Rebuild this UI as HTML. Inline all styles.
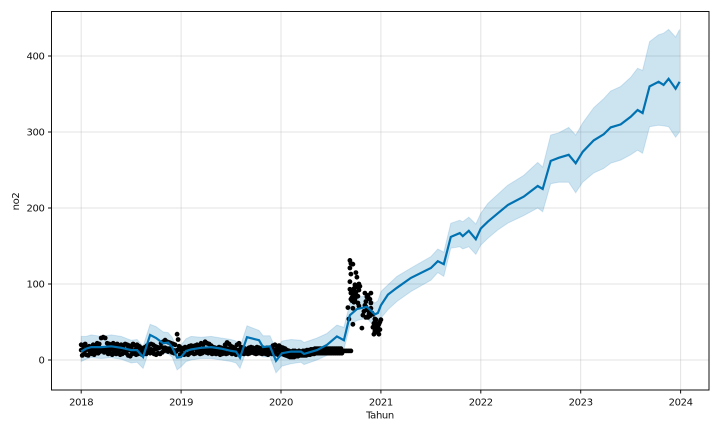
<!DOCTYPE html>
<html>
<head>
<meta charset="utf-8">
<style>
html,body{margin:0;padding:0;background:#fff;width:720px;height:432px;overflow:hidden}
svg{display:block;font-family:"DejaVu Sans","Liberation Sans",sans-serif}
text{letter-spacing:-0.35px}
</style>
</head>
<body>
<svg id="chart" width="720" height="432" viewBox="0 0 720 432" xmlns="http://www.w3.org/2000/svg">
<g id="grid"></g>
<path id="band" fill="#0072B2" fill-opacity="0.2" stroke="#0072B2" stroke-opacity="0.15" stroke-width="1"></path>
<g id="points"></g>
<path id="line" fill="none" stroke="#0072B2" stroke-width="2.2"></path>
<rect x="51.5" y="11.5" width="657.5" height="378.5" fill="none" stroke="#111" stroke-width="1"></rect>
<g id="ticks"></g>
<text x="380" y="418.5" font-size="10" fill="#111" text-anchor="middle">Tahun</text>
<text transform="translate(19,201.5) rotate(-90)" font-size="10" fill="#111" text-anchor="middle">no2</text>
</svg>
<script>
const xTicks = [2018, 2019, 2020, 2021, 2022, 2023, 2024];
const yTicks = [0, 100, 200, 300, 400];
const forecastDates = [2018.00,2018.05,2018.10,2018.20,2018.30,2018.40,2018.50,2018.56,2018.62,2018.69,2018.75,2018.82,2018.87,2018.91,2018.96,2019.00,2019.05,2019.10,2019.20,2019.30,2019.40,2019.50,2019.55,2019.59,2019.66,2019.72,2019.78,2019.82,2019.89,2019.95,2020.01,2020.10,2020.20,2020.23,2020.36,2020.46,2020.56,2020.63,2020.69,2020.76,2020.86,2020.94,2020.97,2021.00,2021.07,2021.16,2021.30,2021.50,2021.57,2021.63,2021.70,2021.79,2021.82,2021.88,2021.95,2022.00,2022.07,2022.17,2022.27,2022.43,2022.57,2022.62,2022.70,2022.78,2022.88,2022.95,2023.02,2023.13,2023.23,2023.30,2023.40,2023.50,2023.57,2023.62,2023.69,2023.78,2023.83,2023.88,2023.95,2023.99];
const forecastValues = [11,15,17,17,18,16,13,13,4,33,29,22,23,17,3,4,12,14,16,17,15,12,11,3,30,28,26,17,18,-1,9,11,11,8,13,20,31,26,59,67,70,60,62,72,86,95,108,121,130,126,162,167,163,170,159,173,182,193,204,215,229,225,262,266,270,259,274,289,297,306,310,320,329,325,360,366,362,370,357,366];
const forecastLower = [-2,1,3,2,3,1,-4,-3,-11,16,13,9,8,4,-13,-9,-2,0,2,2,0,-2,-4,-11,14,13,11,4,4,-17,-8,-5,-3,-6,0,6,16,14,45,52,55,43,45,55,66,77,90,105,115,110,147,149,146,149,139,151,160,171,180,190,200,195,232,234,234,220,234,246,252,259,263,270,276,272,307,309,308,307,293,300];
const forecastUpper = [31,31,33,31,33,31,26,27,18,47,44,37,36,30,15,20,28,31,30,31,29,27,25,17,45,42,39,32,32,14,25,27,26,23,29,35,46,43,75,82,85,75,78,90,99,110,121,136,146,142,180,184,182,188,179,193,206,218,230,243,260,254,296,299,306,296,312,332,344,354,360,372,384,381,419,428,430,435,425,435];
const observedStartYear = 2018;
const observedYearStep = 0.01;
const observedValues = [20,6,19,8,21,7,17,6,18,9,16,8,20,7,19,10,22,9,21,11,29,12,30,10,29,13,22,8,21,9,20,7,22,10,20,8,21,9,19,7,20,8,18,10,21,9,20,6,19,5,17,8,21,9,19,7,20,8,18,9,16,7,15,9,17,8,19,10,20,9,21,10,20,8,18,7,17,9,16,8,22,10,24,12,26,13,24,11,23,12,22,10,21,9,20,11,34,27,18,7,16,8,15,7,17,8,16,7,18,9,19,10,18,8,19,9,20,10,19,8,22,9,20,11,24,10,22,9,21,10,19,8,17,9,16,8,15,9,17,7,16,8,15,9,20,8,23,9,21,11,18,8,17,9,15,7,20,8,22,10,17,9,16,8,15,9,14,8,16,9,17,10,16,9,15,8,17,9,16,9,15,8,16,9,15,8,16,7,15,9,16,8,19,8,20,8,18,7,19,8,17,8,16,7,15,6,13,5,12,4,11,4,12,4,12,5,11,5,12,6,11,6,12,6,12,6,13,7,13,7,14,8,14,8,15,9,15,9,15,9,15,9,15,9,15,9,15,9,15,9,15,9,15,9,15,9,15,9,15,9,15,9];
const observedMiddleStartYear = 2018;
const observedMiddleStep = 0.02;
const observedMiddleValues = [13,14,13,14,13,14,13,15,14,15,14,15,15,14,14,15,14,13,14,13,14,14,13,14,13,13,12,13,14,14,14,13,13,13,14,14,13,14,15,16,17,16,16,15,15,14,13,12,13,14,13,14,14,14,14,15,15,15,14,14,14,14,13,13,13,13,14,13,12,13,12,14,14,15,13,14,13,13,13,13,12,12,12,12,12,12,12,12,12,13,12,13,12,12,13,14,14,13,13,13,13,13,12,12,10,9,8,8,8,8,8,8,8,9,9,9,10,10,10,10,10,11,11,12,12,12,12,12,12,12,12,12,12,12,12,12];
const clusterDates = [2020.69,2020.70,2020.72,2020.69,2020.70,2020.75,2020.76,2020.69,2020.78,2020.74,2020.73,2020.69,2020.78,2020.75,2020.70,2020.90,2020.87,2020.71,2020.74,2020.88,2020.90,2020.85,2020.78,2020.67,2020.72,2020.85,2020.90,2020.82,2020.87,2020.68,2020.95,2021.00,2020.93,2020.98,2020.72,2020.81,2020.95,2020.99,2020.93,2020.98,2020.71,2020.73,2020.76,2020.77,2020.79,2020.71,2020.73,2020.75,2020.84,2020.86,2020.89,2020.84,2020.88,2020.92,2020.94,2020.96,2020.97,2020.99,2020.92,2020.94,2020.96,2020.97,2020.94,2020.97,2020.86,2020.88,2020.91,2020.83,2020.85,2020.89,2020.72,2020.74,2020.70,2020.77,2020.95,2020.98];
const clusterValues = [131,127,126,121,113,115,109,103,100,99,94,93,92,89,88,88,85,82,79,81,75,77,71,69,68,70,68,59,56,54,53,53,48,47,47,42,40,40,34,34,90,85,96,84,97,78,76,83,88,83,80,72,64,60,50,45,42,50,43,38,37,44,54,36,66,60,62,64,56,58,86,90,80,75,46,48];

const X_LEFT = 81.2, X_PER_YEAR = 99.9, Y_ZERO = 360, Y_PER_UNIT = 0.76;
const NS = 'http://www.w3.org/2000/svg';
function xScale(t){ return X_LEFT + (t - 2018) * X_PER_YEAR; }
function yScale(v){ return Y_ZERO - v * Y_PER_UNIT; }
function make(tag, attrs, parent){
  const el = document.createElementNS(NS, tag);
  for (const k in attrs) el.setAttribute(k, attrs[k]);
  parent.appendChild(el);
  return el;
}
const grid = document.getElementById('grid');
const ticks = document.getElementById('ticks');
xTicks.forEach(function(t){
  const x = xScale(t);
  const g = make('line', {x1:x, x2:x, y1:11.5, y2:390, stroke:'#b0b0b0', 'stroke-opacity':0.35, 'stroke-width':1}, grid);
  
  
  const m = make('line', {x1:x, x2:x, y1:390, y2:393.5, stroke:'#111', 'stroke-width':1}, ticks);
  
  
  const l = make('text', {x:x, y:405.7, 'font-size':10, fill:'#111', 'text-anchor':'middle'}, ticks);
  
  
  l.textContent = t;
});
yTicks.forEach(function(v){
  const y = yScale(v);
  const g = make('line', {x1:51.5, x2:709, y1:y, y2:y, stroke:'#b0b0b0', 'stroke-opacity':0.35, 'stroke-width':1}, grid);
  
  
  const m = make('line', {x1:48, x2:51.5, y1:y, y2:y, stroke:'#111', 'stroke-width':1}, ticks);
  
  
  const l = make('text', {x:44.5, y:y + 3.6, 'font-size':10, fill:'#111', 'text-anchor':'end'}, ticks);
  
  
  l.textContent = v;
});
let bandPath = '';
forecastDates.forEach(function(t, i){
  bandPath += (i ? 'L' : 'M') + xScale(t).toFixed(1) + ' ' + yScale(forecastUpper[i]).toFixed(1);
});
for (let i = forecastDates.length - 1; i >= 0; i--) {
  bandPath += 'L' + xScale(forecastDates[i]).toFixed(1) + ' ' + yScale(forecastLower[i]).toFixed(1);
}
document.getElementById('band').setAttribute('d', bandPath + 'Z');
let linePath = '';
forecastDates.forEach(function(t, i){
  linePath += (i ? 'L' : 'M') + xScale(t).toFixed(1) + ' ' + yScale(forecastValues[i]).toFixed(1);
});
document.getElementById('line').setAttribute('d', linePath);
const points = document.getElementById('points');
function addPoint(t, v){
  const c = make('circle', {cx:xScale(t).toFixed(1), cy:yScale(v).toFixed(1), r:2.4, fill:'#000'}, points);
  
  
}
observedValues.forEach(function(v, i){ addPoint(observedStartYear + i * observedYearStep, v); });
observedMiddleValues.forEach(function(v, i){ addPoint(observedMiddleStartYear + i * observedMiddleStep, v); });
clusterValues.forEach(function(v, i){ addPoint(clusterDates[i], v); });
</script>
</body>
</html>
